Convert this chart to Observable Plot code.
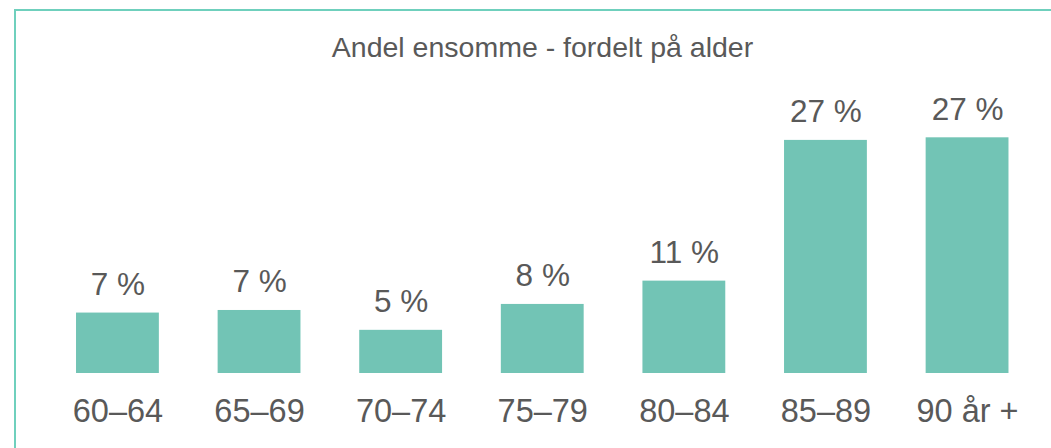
<!DOCTYPE html>
<html>
<head>
<meta charset="utf-8">
<script src="https://cdn.jsdelivr.net/npm/d3@7"></script>
<script src="https://cdn.jsdelivr.net/npm/@observablehq/plot@0.6"></script>
<style>
  html, body { margin: 0; padding: 0; background: #fff; }
  body { width: 1051px; height: 448px; overflow: hidden; position: relative;
         font-family: "Liberation Sans", Arial, sans-serif; }
  #frame { position: absolute; left: 14px; top: 9px; width: 1100px; height: 500px;
           border: 2px solid #6fd0bd; box-sizing: border-box; }
  #title { position: absolute; left: 0; width: 1085px; top: 30px; text-align: center;
           font-size: 28.5px; color: #595959; line-height: 34px; white-space: nowrap; }
  #chart { position: absolute; left: 0; top: 0; }
</style>
</head>
<body>
<div id="frame"></div>
<div id="title">Andel ensomme - fordelt på alder</div>
<div id="chart"></div>
<script>
const ageGroups = ["60–64", "65–69", "70–74", "75–79", "80–84", "85–89", "90 år +"];
const shares = [7.0, 7.3, 5.0, 8.0, 10.7, 27.0, 27.3];
const valueLabels = ["7 %", "7 %", "5 %", "8 %", "11 %", "27 %", "27 %"];

const data = ageGroups.map((age, i) => ({age, share: shares[i], label: valueLabels[i]}));

const chart = Plot.plot({
  width: 1051,
  height: 448,
  marginLeft: 46,
  marginRight: 12.5,
  marginTop: 114,
  marginBottom: 75,
  style: {fontFamily: "Liberation Sans, Arial, sans-serif", color: "#595959", background: "transparent", overflow: "visible"},
  x: {domain: ageGroups, paddingInner: 0.415, paddingOuter: 0.212, round: false, label: null},
  y: {domain: [0, 30], axis: null},
  marks: [
    Plot.barY(data, {x: "age", y: "share", fill: "#72c4b5"}),
    Plot.text(data, {x: "age", y: "share", text: "label", lineAnchor: "bottom", dy: -18,
      fontSize: 31.5, fill: "#595959"}),
    Plot.axisX({tickSize: 0, tickPadding: 25, fontSize: 32.5, fill: "#595959", label: null})
  ]
});
document.getElementById("chart").appendChild(chart);
</script>
</body>
</html>
